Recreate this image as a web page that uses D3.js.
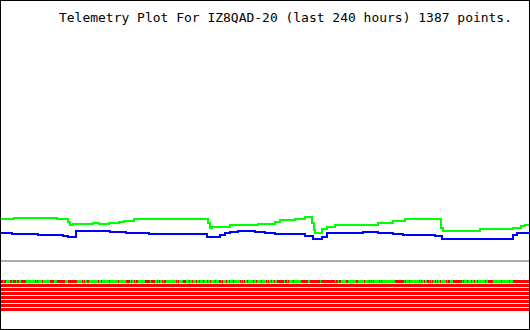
<!DOCTYPE html>
<html>
<head>
<meta charset="utf-8">
<script src="https://cdn.jsdelivr.net/npm/d3@7"></script>
<style>
  html, body { margin: 0; padding: 0; background: #ffffff; }
  svg { display: block; }
</style>
</head>
<body>
<svg id="chart" width="530" height="330"></svg>
<script>
// telemetry, hours back (0 = oldest) and raw channel value
var titleText = 'Telemetry Plot For IZ8QAD-20 (last 240 hours) 1387 points.';
var hoursSpan = [0, 240];

var greenSeries = [
  [0, 42.5], [5.9, 43.5], [25.5, 42.5], [30.5, 39], [31.4, 36], [32.7, 37.3],
  [41.8, 38.3], [44.5, 37], [49.1, 38.3], [53.6, 39.3], [55.9, 40.3], [60.5, 41.7],
  [94.1, 38], [95, 33], [95.9, 34.3], [104.1, 36.5], [106.4, 35.7], [116.8, 37.3],
  [124.5, 38.7], [126.8, 41], [133.6, 42.3], [138.2, 43.7], [141.4, 38], [142.3, 31],
  [142.7, 28.3], [145.9, 31.7], [148.2, 34.3], [151.8, 36.3], [171.4, 38], [178.2, 40.3],
  [183.6, 41.7], [200, 32.7], [200.9, 30.3], [208.6, 29.7], [217.7, 31.7], [232.7, 33],
  [236.4, 35], [238.2, 36], [240, 36]
];

var blueSeries = [
  [0, 28.3], [5, 27.3], [16.8, 26.3], [28.2, 25.3], [30.5, 24.3], [34.1, 30.3],
  [49.5, 29.3], [56.8, 28.3], [67.3, 27.3], [85.9, 26.7], [93.6, 24.3], [99.5, 25.7],
  [101.8, 28.3], [104.1, 29.3], [107.7, 30.3], [115.5, 29.3], [120, 28.3], [124.5, 27.3],
  [138.2, 25.3], [141.8, 22.3], [145.9, 24.3], [148.2, 27.7], [154.1, 28.3], [164.5, 28.7],
  [171.4, 28], [178.2, 27], [182.7, 26.3], [197.3, 25.3], [200.5, 22.3], [232.7, 26],
  [234.5, 28.3], [240, 28.7]
];

// bit channels: hour ranges where the bit is set
var bitNames = ['B1', 'B2', 'B3', 'B4', 'B5', 'B6', 'B7', 'B8'];
var bit1On = [
  [0.9, 1.4], [2.3, 4.1], [5, 5.5], [6.8, 7.3], [8.2, 9.1], [11.4, 15.5], [15.9, 16.4],
  [16.8, 18.6], [19.1, 22.3], [24.1, 25.5], [29.1, 30.5], [34.5, 36.8], [37.3, 37.7],
  [38.2, 39.1], [40, 44.1], [44.5, 45.5], [45.9, 49.1], [49.5, 53.2], [53.6, 56.8],
  [58.6, 59.1], [59.5, 60.5], [60.9, 61.4], [62.3, 65.5], [67.7, 68.2], [70, 70.9],
  [71.4, 71.8], [72.3, 73.2], [73.6, 74.1], [75, 79.5], [80, 80.5], [80.9, 82.7],
  [84.1, 85.5], [85.9, 86.8], [87.3, 88.6], [89.1, 90], [90.5, 91.8], [92.3, 93.6],
  [94.1, 95], [95.5, 97.3], [97.7, 99.1], [100, 100.5], [100.9, 102.3], [102.7, 103.6],
  [104.1, 105.5], [105.9, 108.6], [109.1, 109.5], [110, 110.5], [110.9, 111.8],
  [112.3, 114.5], [115, 115.9], [116.4, 118.2], [118.6, 120.5], [120.9, 121.4],
  [121.8, 122.7], [123.2, 124.1], [124.5, 125.5], [128.6, 129.1], [130, 130.5],
  [130.9, 132.7], [133.2, 136.4], [139.5, 140.5], [145, 145.5], [151.8, 152.3],
  [153.2, 153.6], [154.5, 156.8], [157.7, 161.4], [162.3, 165], [165.5, 167.3],
  [167.7, 168.2], [168.6, 169.1], [169.5, 171.8], [172.3, 172.7], [173.2, 179.1],
  [183.2, 183.6], [184.1, 185.5], [185.9, 190], [190.5, 190.9], [191.4, 192.3],
  [192.7, 193.6], [194.5, 195], [195.5, 195.9], [196.4, 197.3], [197.7, 198.2],
  [198.6, 199.5], [200, 202.3], [202.7, 203.2], [204.1, 205.5], [209.5, 210],
  [210.5, 211.8], [212.3, 213.6], [214.1, 215], [215.5, 216.4], [216.8, 220],
  [220.5, 221.4], [223.6, 227.3], [227.7, 230.9], [231.4, 232.7]
];
var bitsOn = [bit1On, [], [], [], [], [], [], []];

var svg = d3.select('#chart');
var width = +svg.attr('width');
var height = +svg.attr('height');

var x = d3.scaleLinear().domain(hoursSpan).range([1, width - 1]);
var y = d3.scaleLinear().domain([0, 255]).range([261, 6]);
var bitY = d3.scaleBand().domain(bitNames).range([280, 311]).paddingInner(0.25).paddingOuter(0);

svg.append('rect')
  .attr('x', 0.5)
  .attr('y', 0.5)
  .attr('width', width - 1)
  .attr('height', height - 1)
  .style('fill', '#ffffff')
  .style('stroke', '#000000');

svg.append('text')
  .attr('x', 59)
  .attr('y', 22)
  .attr('textLength', 453)
  .attr('lengthAdjust', 'spacingAndGlyphs')
  .style('font-family', '"DejaVu Sans Mono", monospace')
  .style('font-size', '13px')
  .style('fill', '#000000')
  .text(titleText);

// zero line
svg.append('line')
  .attr('x1', x(hoursSpan[0]))
  .attr('x2', x(hoursSpan[1]))
  .attr('y1', y(0))
  .attr('y2', y(0))
  .style('stroke', '#aaaaaa')
  .style('stroke-width', 2)
  .style('shape-rendering', 'crispEdges');

var line = d3.line()
  .x(function(d) { return x(d[0]); })
  .y(function(d) { return y(d[1]); })
  .curve(d3.curveStepAfter);

svg.append('path')
  .datum(greenSeries)
  .attr('d', line)
  .style('fill', 'none')
  .style('stroke', '#00ff00')
  .style('stroke-width', 2)
  .style('shape-rendering', 'crispEdges');

svg.append('path')
  .datum(blueSeries)
  .attr('d', line)
  .style('fill', 'none')
  .style('stroke', '#0000ff')
  .style('stroke-width', 2)
  .style('shape-rendering', 'crispEdges');

var rows = svg.selectAll('.bit-row')
  .data(bitNames)
  .enter().append('g')
  .attr('class', 'bit-row')
  .attr('transform', function(d) {
    return 'translate(0,' + bitY(d) + ')';
  });

rows.append('rect')
  .attr('x', x(hoursSpan[0]))
  .attr('width', x(hoursSpan[1]) - x(hoursSpan[0]))
  .attr('height', bitY.bandwidth())
  .style('fill', '#ff0000')
  .style('shape-rendering', 'crispEdges');

rows.selectAll('.bit-on')
  .data(function(d, i) { return bitsOn[i]; })
  .enter().append('rect')
  .attr('class', 'bit-on')
  .attr('x', function(d) { return x(d[0]); })
  .attr('width', function(d) { return Math.max(1, x(d[1]) - x(d[0])); })
  .attr('height', bitY.bandwidth())
  .style('fill', '#00ff00')
  .style('shape-rendering', 'crispEdges');
</script>
</body>
</html>
